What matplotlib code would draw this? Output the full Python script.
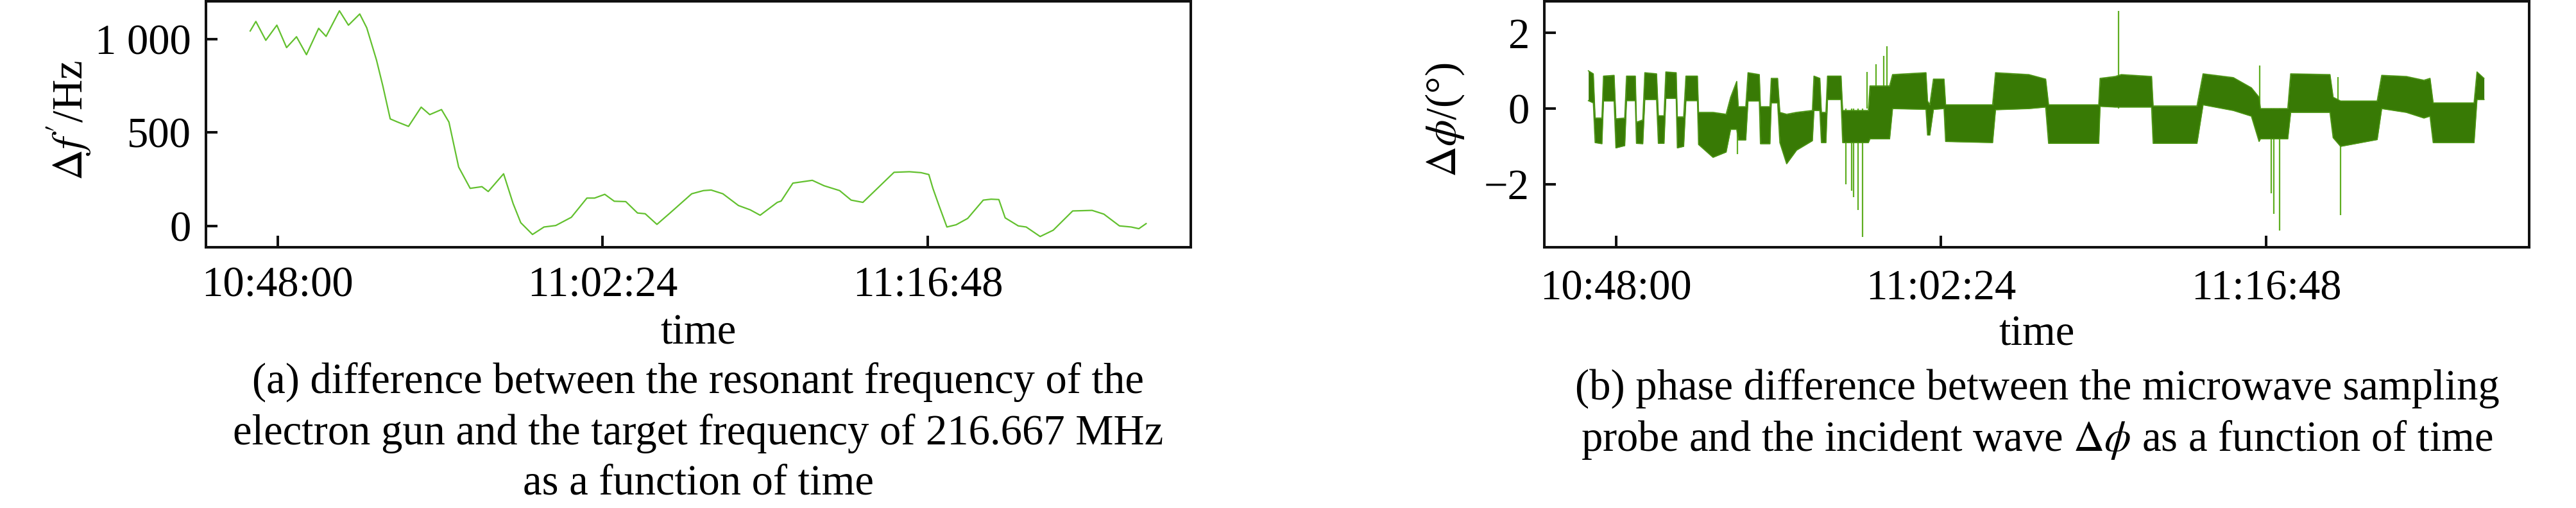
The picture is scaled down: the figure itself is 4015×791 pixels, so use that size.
import matplotlib
matplotlib.use("Agg")
import matplotlib.pyplot as plt

plt.rcParams['font.family'] = ['Liberation Serif', 'DejaVu Serif']
plt.rcParams['mathtext.fontset'] = 'stix'

# ---------------- data ----------------
# x values: minutes after 10:48:00
xtick_pos = [0.0, 14.4, 28.8]
xtick_labels = ["10:48:00", "11:02:24", "11:16:48"]

# (a) frequency difference, Hz
t_freq = [-1.21, -0.96, -0.52, -0.03, 0.40, 0.84, 1.28, 1.82, 2.15, 2.74, 3.14, 3.64,
          3.95, 4.38, 4.66, 4.99, 5.32, 5.80, 6.36, 6.74, 7.26, 7.59, 8.02, 8.53,
          9.05, 9.33, 10.01, 10.43, 10.77, 11.29, 11.80, 12.32, 13.01, 13.70, 14.04,
          14.49, 14.91, 15.42, 15.94, 16.28, 16.80, 17.38, 18.34, 18.86, 19.20, 19.72,
          20.41, 20.93, 21.37, 22.13, 22.30, 22.82, 23.68, 24.20, 24.89, 25.40, 25.92,
          27.30, 27.98, 28.50, 28.84, 29.02, 29.29, 29.64, 30.05, 30.56, 31.25, 31.60,
          31.94, 32.22, 32.80, 33.15, 33.77, 34.35, 35.21, 36.07, 36.59, 37.28, 37.80,
          38.14, 38.46]
df_hz = [1044, 1095, 994, 1075, 955, 1013, 917, 1058, 1015, 1152, 1075, 1135,
         1061, 889, 751, 573, 556, 533, 636, 596, 623, 556, 315, 201,
         210, 184, 279, 120, 17, -46, -6, 2, 46, 149, 149,
         169, 132, 130, 69, 65, 8, 69, 172, 189, 192, 172,
         109, 86, 57, 126, 133, 229, 244, 215, 189, 138, 126,
         287, 290, 285, 275, 201, 109, -6, 6, 40, 138, 143,
         141, 43, 0, -6, -57, -23, 80, 83, 63, 0, -6,
         -15, 12]
yticks_a = [0, 500, 1000]
yticklabels_a = ["0", "500", "1 000"]

# (b) phase difference, degrees: envelope of the noisy trace (upper / lower)
t_band = [-1.22, -1.00, -0.92, -0.62, -0.55, -0.08,
          0.00, 0.39, 0.47, 0.86, 0.91, 1.19,
          1.28, 1.80, 1.88, 2.13, 2.21, 2.67,
          2.72, 3.00, 3.10, 3.61, 3.66, 4.30,
          4.88, 5.08, 5.35, 5.42, 5.75, 5.85,
          6.35, 6.40, 6.82, 6.88, 7.16, 7.26,
          7.56, 8.00, 8.70, 8.77, 9.03, 9.10,
          9.30, 9.37, 9.97, 10.04, 11.18, 11.25,
          12.12, 12.25, 13.73, 13.80, 13.90, 14.06,
          14.53, 14.60, 16.68, 16.81, 18.28, 19.03,
          19.16, 21.38, 21.44, 22.11, 22.38, 23.72,
          23.79, 25.73, 26.00, 27.34, 28.14, 28.48,
          28.54, 29.75, 29.88, 31.62, 31.76, 32.09,
          33.71, 33.91, 35.00, 35.78, 36.05, 36.19,
          38.00, 38.13, 38.44]
phi_hi = [1.00, 0.92, -0.25, -0.25, 0.86, 0.88,
          -0.27, -0.25, 0.86, 0.86, -0.36, -0.30,
          0.95, 0.92, -0.19, -0.19, 0.97, 0.95,
          -0.22, -0.22, 0.86, 0.86, -0.10, -0.10,
          -0.15, 0.30, 0.72, 0.05, 0.05, 0.95,
          0.90, 0.05, 0.05, 0.80, 0.80, -0.10,
          -0.15, -0.10, -0.05, 0.86, 0.80, -0.10,
          -0.10, 0.86, 0.86, -0.05, -0.05, 0.60,
          0.60, 0.90, 0.95, 0.20, 0.10, 0.78,
          0.78, 0.10, 0.10, 0.95, 0.90, 0.78,
          0.10, 0.10, 0.80, 0.85, 0.90, 0.85,
          0.07, 0.07, 0.92, 0.82, 0.55, 0.30,
          0.00, 0.00, 0.92, 0.90, 0.30, 0.20,
          0.20, 0.88, 0.85, 0.75, 0.80, 0.15,
          0.15, 0.97, 0.80]
phi_lo = [0.21, 0.15, -0.90, -0.93, 0.20, 0.20,
          -1.04, -0.98, 0.21, 0.21, -0.92, -0.93,
          0.24, 0.24, -0.92, -0.92, 0.27, 0.27,
          -1.04, -1.00, 0.21, 0.21, -0.95, -1.29,
          -1.15, -0.55, -0.55, -0.83, -0.83, 0.20,
          0.20, -0.93, -0.93, 0.15, 0.15, -0.90,
          -1.46, -1.10, -0.85, -0.05, -0.05, -0.90,
          -0.90, 0.24, 0.24, -0.90, -0.90, -0.80,
          -0.80, 0.00, -0.02, -0.70, -0.70, -0.02,
          0.00, -0.87, -0.90, -0.03, 0.00, 0.04,
          -0.92, -0.92, 0.06, 0.04, 0.04, 0.04,
          -0.92, -0.92, 0.10, -0.05, -0.20, -0.87,
          -0.80, -0.80, -0.10, -0.10, -0.77, -1.00,
          -0.82, 0.00, -0.10, -0.25, -0.20, -0.90,
          -0.90, 0.24, 0.24]
# isolated spikes of the phase trace
t_spike = [5.39, 10.17, 10.44, 10.51, 10.71, 10.91, 11.11, 11.51, 11.85, 12.01,
           22.25, 28.51, 29.01, 29.12, 29.38, 31.96, 32.09]
phi_spike = [-1.21, -2.00, -2.17, -2.34, -2.68, -3.39, 0.97, 1.17, 1.39, 1.65,
             2.59, 1.14, -2.25, -2.79, -3.22, 0.83, -2.82]
yticks_b = [-2, 0, 2]
yticklabels_b = ["\u22122", "0", "2"]

# ---------------- layout ----------------
W, H = 4016, 791
fig = plt.figure(figsize=(W / 100, H / 100), dpi=100)
fig.patch.set_facecolor("white")

def px_axes(x0, x1, ytop, ybot):
    return [x0 / W, 1 - ybot / H, (x1 - x0) / W, (ybot - ytop) / H]

ax1 = fig.add_axes(px_axes(321, 1856, 2, 385))
ax2 = fig.add_axes(px_axes(2407, 3942, 2, 385))

TICK_FS = 48
CAP_FS = 48

ax1.plot(t_freq, df_hz, color="#62c02e", lw=1.6)
ax1.set_ylim(-114.5, 1203)
ax1.set_yticks(yticks_a)
ax1.set_yticklabels(yticklabels_a)

band_col = "#387a05"
ax2.vlines(t_spike, 0, phi_spike, color="#5fae22", lw=1.6, zorder=1)
ax2.fill_between(t_band, phi_lo, phi_hi, color=band_col, lw=0, zorder=2)
ax2.plot(t_band, phi_hi, color="#4a9412", lw=1.2, zorder=3)
ax2.plot(t_band, phi_lo, color="#4a9412", lw=1.2, zorder=3)
ax2.set_ylim(-3.67, 2.84)
ax2.set_yticks(yticks_b)
ax2.set_yticklabels(yticklabels_b)

for ax, xpad in ((ax1, 21.5), (ax2, 25)):
    ax.set_xlim(-3.17, 40.44)
    ax.set_xticks(xtick_pos)
    ax.set_xticklabels(xtick_labels)
    for s in ax.spines.values():
        s.set_linewidth(2.9)
        s.set_color("#111111")
    ax.tick_params(axis="both", direction="in", length=13, width=2.9,
                   labelsize=TICK_FS, top=False, right=False, color="#111111")
    ax.tick_params(axis="x", pad=xpad)
    ax.tick_params(axis="y", pad=17)

ax1.set_xlabel("time", fontsize=TICK_FS)
ax1.xaxis.label.set_va("baseline")
ax1.xaxis.set_label_coords(0.5, (385 - 535) / 383)
ax2.set_xlabel("time", fontsize=TICK_FS)
ax2.xaxis.label.set_va("baseline")
ax2.xaxis.set_label_coords(0.5, (385 - 537) / 383)

# y labels placed at explicit figure positions (centre of rotated text)
fig.text(108 / W, 1 - 187 / H, r"$\Delta f'$/Hz", rotation=90,
         ha="center", va="center", fontsize=TICK_FS)
fig.text(2252 / W, 1 - 187 / H, r"$\Delta\phi$/(°)", rotation=90,
         ha="center", va="center", fontsize=TICK_FS)

cap_a = ["(a) difference between the resonant frequency of the",
         "electron gun and the target frequency of 216.667 MHz",
         "as a function of time"]
cap_b = ["(b) phase difference between the microwave sampling",
         r"probe and the incident wave $\Delta\phi$ as a function of time"]
for line, yb in zip(cap_a, [612, 692, 770]):
    fig.text(1088 / W, 1 - yb / H, line, ha="center", va="baseline", fontsize=CAP_FS)
for line, yb in zip(cap_b, [622, 702]):
    fig.text(3175 / W, 1 - yb / H, line, ha="center", va="baseline", fontsize=CAP_FS)

fig.savefig("out.png", dpi=100, facecolor="white")
